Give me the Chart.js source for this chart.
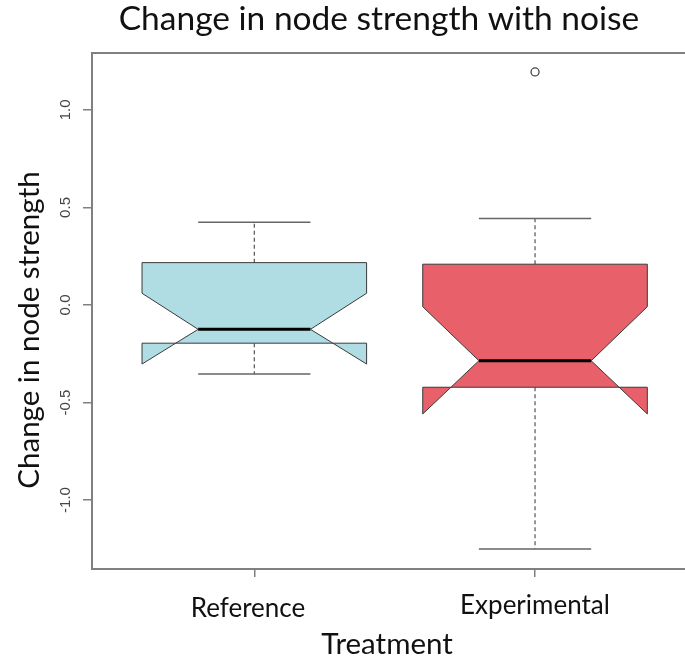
<!DOCTYPE html>
<html>
<head>
<meta charset="utf-8">
<script src="https://cdn.jsdelivr.net/npm/chart.js@4.4.1/dist/chart.umd.min.js"></script>
<style>
  html, body { margin: 0; padding: 0; background: #fff; overflow: hidden; }
  canvas { display: block; }
</style>
</head>
<body>
<canvas id="boxChart" width="720" height="657"></canvas>
<script>
// data
const categories = ["Reference", "Experimental"];
const whiskerLow = [-0.354, -1.251];
const q1 = [-0.196, -0.422];
const medians = [-0.125, -0.286];
const q3 = [0.217, 0.209];
const whiskerHigh = [0.424, 0.443];
const notchLow = [-0.303, -0.559];
const notchHigh = [0.060, -0.009];
const outlierGroup = [2];
const outlierValues = [1.195];
const yTicks = [-1.0, -0.5, 0.0, 0.5, 1.0];

const fillColors = ["#b0dce4", "#e8616a"];
const axisGray = "#808080";
const uiFont = "Lato, 'Open Sans', sans-serif";

// draws the notched boxes, whiskers and all text
const boxPlugin = {
    id: "notchedBoxes",
    afterDatasetsDraw(chart) {
        const ctx = chart.ctx;
        const xs = chart.scales.x;
        const ys = chart.scales.y;
        const area = chart.chartArea;
        const X = (v) => xs.getPixelForValue(v);
        const Y = (v) => ys.getPixelForValue(v);

        ctx.save();
        categories.forEach((cat, i) => {
            const c = i + 1;
            const hw = 0.4;   // half box width
            const nw = 0.2;   // half median / cap width

            // whiskers (dashed)
            ctx.strokeStyle = "#555";
            ctx.lineWidth = 1.2;
            ctx.setLineDash([4, 3]);
            ctx.beginPath();
            ctx.moveTo(X(c), Y(q3[i]));
            ctx.lineTo(X(c), Y(whiskerHigh[i]));
            ctx.moveTo(X(c), Y(q1[i]));
            ctx.lineTo(X(c), Y(whiskerLow[i]));
            ctx.stroke();
            ctx.setLineDash([]);

            // caps
            ctx.strokeStyle = "#666";
            ctx.lineWidth = 1.5;
            ctx.beginPath();
            ctx.moveTo(X(c - nw), Y(whiskerHigh[i]));
            ctx.lineTo(X(c + nw), Y(whiskerHigh[i]));
            ctx.moveTo(X(c - nw), Y(whiskerLow[i]));
            ctx.lineTo(X(c + nw), Y(whiskerLow[i]));
            ctx.stroke();

            // notched box
            const pts = [
                [c - hw, q1[i]], [c - hw, notchLow[i]], [c - nw, medians[i]],
                [c - hw, notchHigh[i]], [c - hw, q3[i]], [c + hw, q3[i]],
                [c + hw, notchHigh[i]], [c + nw, medians[i]], [c + hw, notchLow[i]],
                [c + hw, q1[i]]
            ];
            ctx.beginPath();
            pts.forEach((p, k) => {
                if (k === 0) ctx.moveTo(X(p[0]), Y(p[1]));
                else ctx.lineTo(X(p[0]), Y(p[1]));
            });
            ctx.closePath();
            ctx.fillStyle = fillColors[i];
            ctx.fill();
            ctx.strokeStyle = "#3a3a3a";
            ctx.lineWidth = 1;
            ctx.stroke();

            // median
            ctx.strokeStyle = "#000";
            ctx.lineWidth = 3;
            ctx.beginPath();
            ctx.moveTo(X(c - nw), Y(medians[i]));
            ctx.lineTo(X(c + nw), Y(medians[i]));
            ctx.stroke();
        });

        // top frame line
        ctx.strokeStyle = axisGray;
        ctx.lineWidth = 2;
        ctx.beginPath();
        ctx.moveTo(area.left, area.top);
        ctx.lineTo(area.right, area.top);
        ctx.stroke();

        // y tick labels, rotated like R
        ctx.fillStyle = "#444";
        ctx.font = "15px 'Liberation Sans', Arial, sans-serif";
        ctx.textAlign = "center";
        ctx.textBaseline = "middle";
        yTicks.forEach((t) => {
            ctx.save();
            ctx.translate(66, Y(t));
            ctx.rotate(-Math.PI / 2);
            ctx.fillText(t.toFixed(1), 0, 0);
            ctx.restore();
        });

        // category labels
        ctx.fillStyle = "#111";
        ctx.font = "26px " + uiFont;
        ctx.textBaseline = "alphabetic";
        ctx.fillText(categories[0], 248, 617);
        ctx.fillText(categories[1], 535, 614);

        // axis titles and main title
        ctx.font = "29.5px " + uiFont;
        ctx.fillText("Treatment", 387, 654);
        ctx.save();
        ctx.translate(39, 330);
        ctx.rotate(-Math.PI / 2);
        ctx.fillText("Change in node strength", 0, 0);
        ctx.restore();
        ctx.font = "33.5px " + uiFont;
        ctx.fillText("Change in node strength with noise", 379, 30);
        ctx.restore();
    }
};

const chart = new Chart(document.getElementById("boxChart"), {
    type: "scatter",
    data: {
        datasets: [
            {
                label: "outliers",
                data: outlierValues.map((v, k) => ({ x: outlierGroup[k], y: v })),
                pointStyle: "circle",
                pointRadius: 4,
                backgroundColor: "rgba(0,0,0,0)",
                borderColor: "#444",
                borderWidth: 1.3,
            },
        ],
    },
    options: {
        responsive: false,
        animation: false,
        devicePixelRatio: 1,
        layout: { padding: { top: 53, left: 0, right: 0, bottom: 0 } },
        plugins: {
            legend: { display: false },
            tooltip: { enabled: false },
            title: { display: false },
        },
        scales: {
            x: {
                type: "linear",
                min: 0.4218,
                max: 2.640,
                afterBuildTicks: (s) => { s.ticks = [{ value: 1 }, { value: 2 }]; },
                afterFit: (s) => { s.height = 88; },
                ticks: { display: false },
                grid: { drawOnChartArea: false, tickLength: 8, color: axisGray, lineWidth: 1.5 },
                border: { color: axisGray, width: 2 },
            },
            y: {
                min: -1.354,
                max: 1.292,
                afterBuildTicks: (s) => { s.ticks = yTicks.map((v) => ({ value: v })); },
                afterFit: (s) => { s.width = 92; },
                ticks: { display: false },
                grid: { drawOnChartArea: false, tickLength: 9, color: axisGray, lineWidth: 1.5 },
                border: { color: axisGray, width: 2 },
            },
        },
    },
    plugins: [boxPlugin],
});
</script>
</body>
</html>
